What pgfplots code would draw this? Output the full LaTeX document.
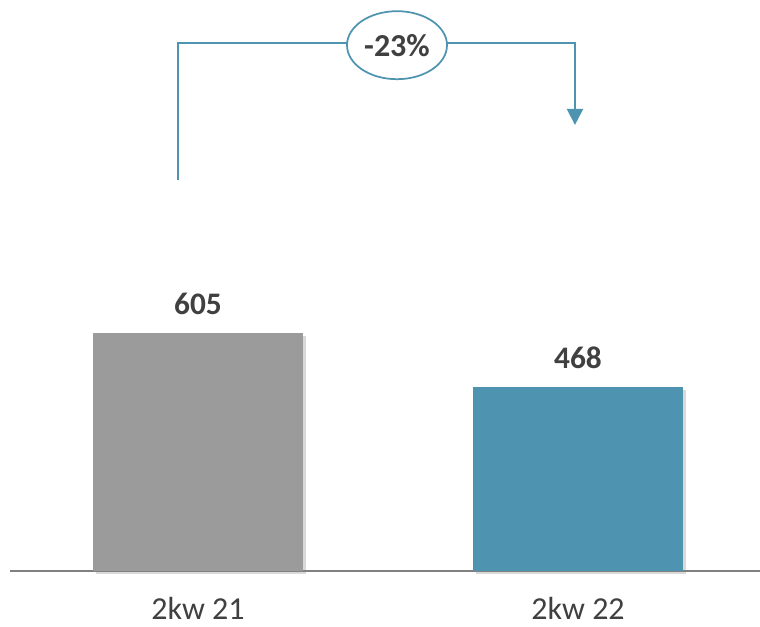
\documentclass[border=0pt]{standalone}
\usepackage{pgfplots}
\pgfplotsset{compat=1.18}
\usepackage{fontspec}
\setmainfont{Carlito}
\usetikzlibrary{shadows,arrows.meta,shapes.geometric}
\definecolor{barGray}{HTML}{9B9B9B}
\definecolor{barTeal}{HTML}{4E94B1}
\definecolor{txt}{HTML}{404040}
\definecolor{axisGray}{HTML}{808080}
\begin{document}
\begin{tikzpicture}
\path[use as bounding box] (-7.5pt,-41.25pt) rectangle (562.5pt,428.25pt);
\begin{axis}[
    at={(0,0)}, anchor=south west,
    scale only axis,
    width=562.5pt,
    height=428.25pt,
    xmin=-0.4947, xmax=1.4789,
    ymin=0, ymax=1453,
    axis x line*=bottom,
    axis y line=none,
    x axis line style={axisGray, line width=1.2pt, -},
    xtick={0,1},
    xticklabels={2kw 21, 2kw 22},
    major tick length=0pt,
    xticklabel style={font=\fontsize{24}{28}\selectfont, text=txt, yshift=-16pt},
    /pgf/number format/assume math mode=true,
    ybar,
    bar width=157.5pt,
    bar shift=0pt,
    nodes near coords,
    every node near coord/.append style={font=\fontsize{23.5}{28}\selectfont\bfseries, text=txt, yshift=10pt},
    clip=false,
]
\addplot[fill=barGray, draw=none, drop shadow={shadow xshift=2.5pt, shadow yshift=-2pt, opacity=0.3}] coordinates {(0,605)};
\addplot[fill=barTeal, draw=none, drop shadow={shadow xshift=2.5pt, shadow yshift=-2pt, opacity=0.3}] coordinates {(1,468)};
\draw[barTeal, line width=1.5pt, -{Triangle[length=12pt,width=12pt]}]
    (axis cs:-0.0526,995) |- (axis cs:0.992,1343.5) -- (axis cs:0.992,1135);
\node[draw=barTeal, line width=1.3pt, fill=white, ellipse, minimum width=75pt, minimum height=51pt, inner sep=0pt,
      text=txt, font=\fontsize{24}{28}\selectfont\bfseries] at (axis cs:0.5237,1338) {-23\%};
\end{axis}
\end{tikzpicture}
\end{document}
